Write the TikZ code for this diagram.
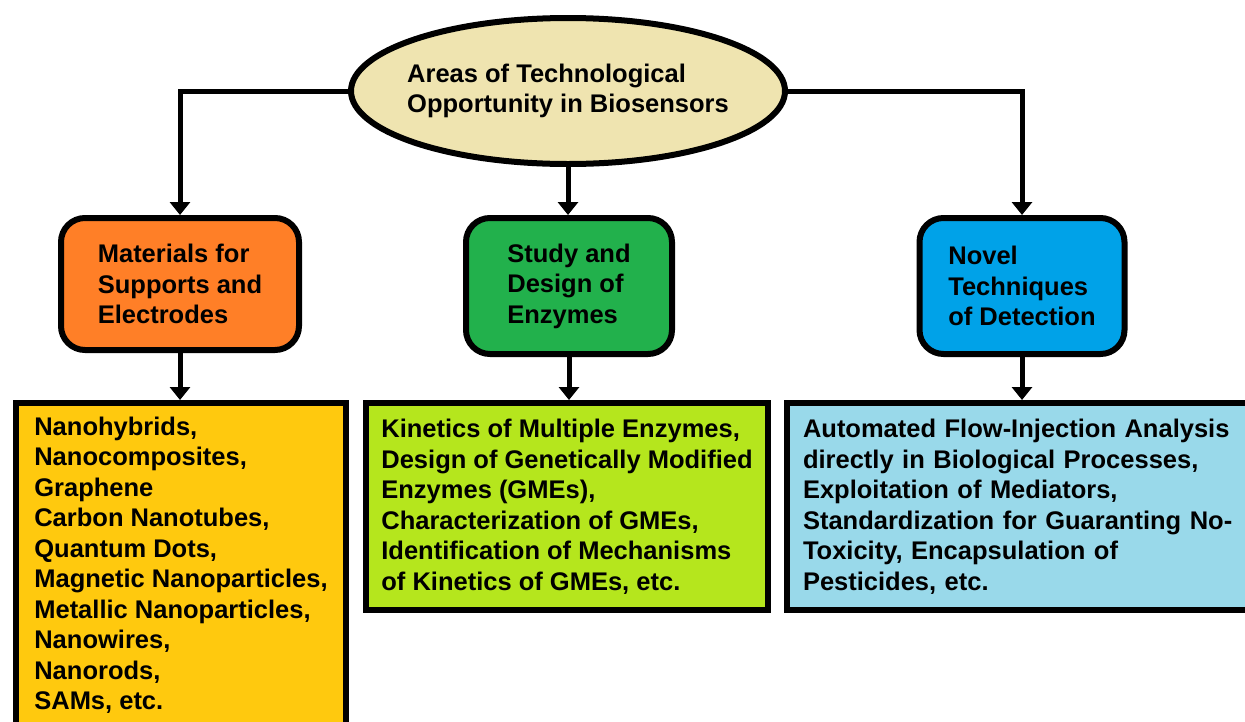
\documentclass[tikz,border=0pt]{standalone}
\usepackage{fontspec}
\setmainfont{Liberation Sans}
\usetikzlibrary{shapes.geometric,arrows.meta}

\definecolor{hubfill}{HTML}{EFE4B0}
\definecolor{matfill}{HTML}{FF7F27}
\definecolor{enzfill}{HTML}{22B14C}
\definecolor{detfill}{HTML}{00A2E8}
\definecolor{matlistfill}{HTML}{FFC90E}
\definecolor{enzlistfill}{HTML}{B5E61D}
\definecolor{detlistfill}{HTML}{99D9EA}

\tikzset{
  boxfont/.style={font=\fontsize{25.5}{30.5}\selectfont\bfseries},
  hub/.style={ellipse, draw, line width=6pt, fill=hubfill, align=left,
    inner xsep=-10pt, minimum width=434pt, minimum height=146pt, boxfont},
  areabox/.style={rectangle, rounded corners=24pt, draw, line width=6pt,
    align=left, boxfont},
  itembox/.style={rectangle, draw, line width=6pt, align=left, boxfont},
  arr/.style={-{Triangle[width=20pt,length=13pt]}, line width=5pt}
}

\begin{document}
\begin{tikzpicture}[x=1pt,y=-1pt]
  \path[use as bounding box, clip] (0,0) rectangle (1245,721);

  \node[hub] (hub) at (568,91) {Areas of Technological\\Opportunity in Biosensors};

  \node[areabox, fill=matfill, minimum width=238pt, minimum height=132pt] (mat) at (180,284)
    {Materials for\\Supports and\\Electrodes};
  \node[areabox, fill=enzfill, minimum width=206pt, minimum height=136pt] (enz) at (569,286)
    {Study and\\Design of\\Enzymes};
  \node[areabox, fill=detfill, minimum width=205pt, minimum height=136pt] (det) at (1022,286)
    {Novel\\Techniques\\of Detection};

  \node[itembox, fill=matlistfill, minimum width=330pt, minimum height=324pt] (matlist) at (181,565)
    {Nanohybrids,\\Nanocomposites,\\Graphene\\Carbon Nanotubes,\\Quantum Dots,\\Magnetic Nanoparticles,\\Metallic Nanoparticles,\\Nanowires,\\Nanorods,\\SAMs, etc.};
  \node[itembox, fill=enzlistfill, minimum width=402pt, minimum height=207pt] (enzlist) at (567,506.5)
    {Kinetics of Multiple Enzymes,\\Design of Genetically Modified\\Enzymes (GMEs),\\Characterization of GMEs,\\Identification of Mechanisms\\of Kinetics of GMEs, etc.};
  \node[itembox, fill=detlistfill, text width=433pt, minimum width=465pt, minimum height=207pt] (detlist) at (1019.5,506.5)
    {Automated Flow-Injection Analysis\\directly in Biological Processes,\\Exploitation of Mediators,\\Standardization for Guaranting No-\\Toxicity, Encapsulation of\\Pesticides, etc.};

  % from the hub to the three areas
  \draw[arr] (hub.west) -| (mat.north);
  \draw[arr] (hub.south) -- (hub.south |- enz.north);
  \draw[arr] (hub.east) -| (det.north);

  % from each area to its list
  \draw[arr] (mat.south) -- (mat.south |- matlist.north);
  \draw[arr] (enz.south) -- (enz.south |- enzlist.north);
  \draw[arr] (det.south) -- (det.south |- detlist.north);
\end{tikzpicture}
\end{document}
